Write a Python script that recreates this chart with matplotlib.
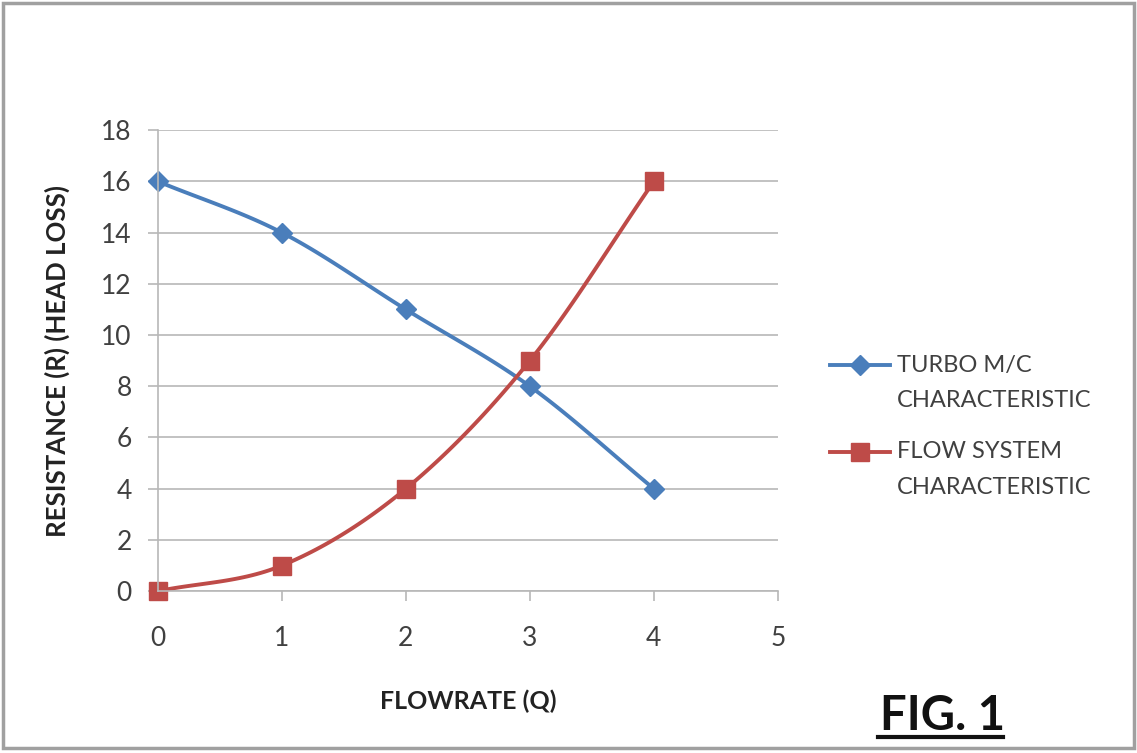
import numpy as np
import matplotlib.pyplot as plt
from matplotlib.lines import Line2D
from matplotlib.patches import Rectangle

plt.rcParams['font.family'] = ['Lato', 'DejaVu Sans']

flowrate = [0, 1, 2, 3, 4]
turbo_head = [16, 14, 11, 8, 4]
system_head = [0, 1, 4, 9, 16]
series_names = [('TURBO M/C', 'CHARACTERISTIC'), ('FLOW SYSTEM', 'CHARACTERISTIC')]

BLUE = '#4a7ebb'
RED = '#be4b48'
GRID = '#b8b8b8'
TXT = '#404040'


def smooth(x, y, n=30):
    # Excel-style smoothed line (Catmull-Rom through the points)
    x = np.asarray(x, float)
    y = np.asarray(y, float)
    px = np.concatenate([[2 * x[0] - x[1]], x, [2 * x[-1] - x[-2]]])
    py = np.concatenate([[2 * y[0] - y[1]], y, [2 * y[-1] - y[-2]]])
    xs, ys = [], []
    t = np.linspace(0, 1, n)
    for i in range(1, len(px) - 2):
        for p, out in ((px, xs), (py, ys)):
            p0, p1, p2, p3 = p[i - 1], p[i], p[i + 1], p[i + 2]
            out.extend(0.5 * ((2 * p1) + (-p0 + p2) * t
                              + (2 * p0 - 5 * p1 + 4 * p2 - p3) * t ** 2
                              + (-p0 + 3 * p1 - 3 * p2 + p3) * t ** 3))
    return xs, ys


fig = plt.figure(figsize=(11.37, 7.53), dpi=100)
fig.patches.append(Rectangle((0.003, 0.006), 0.994, 0.99, transform=fig.transFigure,
                             fill=False, edgecolor='#a0a0a0', linewidth=2.5))

ax = fig.add_axes([0.139, 0.215, 0.545, 0.612])
ax.set_xlim(0, 5)
ax.set_ylim(0, 18)
ax.set_xticks(range(0, 6))
ax.set_yticks(range(0, 19, 2))
ax.grid(axis='y', color=GRID, linewidth=1.2)
ax.set_axisbelow(True)
for s in ['top', 'right']:
    ax.spines[s].set_visible(False)
for s in ['left', 'bottom']:
    ax.spines[s].set_color(GRID)
    ax.spines[s].set_linewidth(1.2)
ax.tick_params(colors=GRID, labelcolor=TXT, labelsize=19, length=7, width=1.2)
ax.tick_params(axis='x', pad=18)
ax.tick_params(axis='y', pad=12)

styles = [(turbo_head, BLUE, 'D', 10), (system_head, RED, 's', 13)]
for vals, col, mk, ms in styles:
    sx, sy = smooth(flowrate, vals)
    ax.plot(sx, sy, color=col, linewidth=2.8, clip_on=False)
    ax.plot(flowrate, vals, linestyle='none', marker=mk, markersize=ms,
            color=col, markeredgecolor=col, clip_on=False)

ax.set_xlabel('FLOWRATE (Q)', fontsize=18, fontweight='bold', color='#222222', labelpad=28)
ax.set_ylabel('RESISTANCE (R) (HEAD LOSS)', fontsize=18.5, fontweight='bold', color='#222222',
              labelpad=22)

# legend drawn by hand: the handle sits on the first text line, like Excel
leg_x0, leg_x1, text_x = 0.730, 0.783, 0.789
leg_y = [0.515, 0.400]
for (vals, col, mk, ms), (l1, l2), y in zip(styles, series_names, leg_y):
    fig.add_artist(Line2D([leg_x0, (leg_x0 + leg_x1) / 2, leg_x1], [y, y, y], color=col,
                          linewidth=2.8, marker=mk, markersize=ms, markevery=[1]))
    fig.text(text_x, y, l1, fontsize=17, color=TXT, va='center')
    fig.text(text_x, y - 0.047, l2, fontsize=17, color=TXT, va='center')

fig.text(0.774, 0.031, 'FIG. 1', fontsize=34, fontweight='bold', color='#111111')
fig.add_artist(Line2D([0.772, 0.882], [0.021, 0.021], color='#111111', linewidth=3))

fig.savefig('out.png', dpi=100)
